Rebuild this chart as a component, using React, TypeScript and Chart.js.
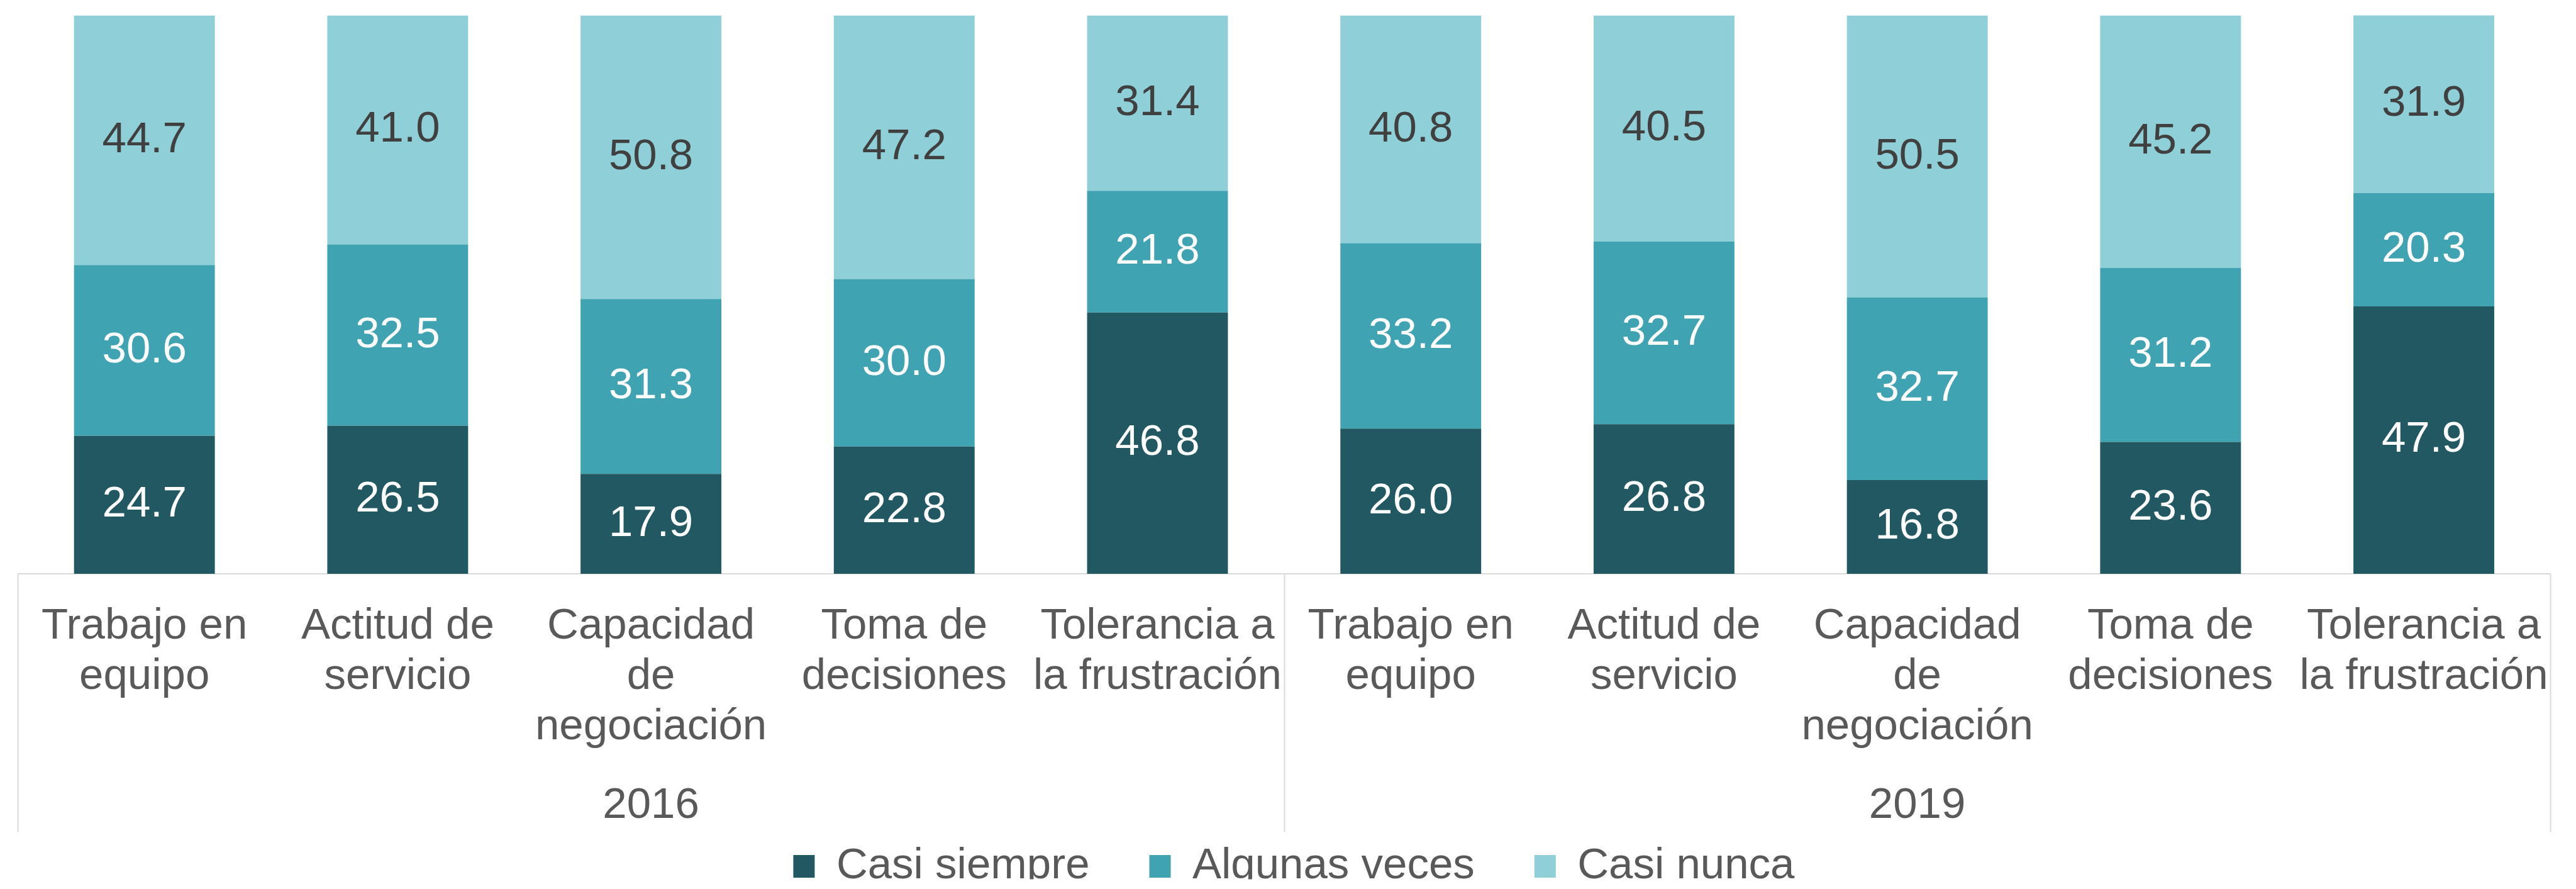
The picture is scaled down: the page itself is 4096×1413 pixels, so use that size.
import React, { useEffect, useRef } from "react";
import { Chart, registerables } from "chart.js";

Chart.register(...registerables);

const categories: string[][] = [
  ["Trabajo en", "equipo"],
  ["Actitud de", "servicio"],
  ["Capacidad", "de", "negociación"],
  ["Toma de", "decisiones"],
  ["Tolerancia a", "la frustración"],
  ["Trabajo en", "equipo"],
  ["Actitud de", "servicio"],
  ["Capacidad", "de", "negociación"],
  ["Toma de", "decisiones"],
  ["Tolerancia a", "la frustración"],
];
const years = ["2016", "2019"];
const casiSiempre = [24.7, 26.5, 17.9, 22.8, 46.8, 26.0, 26.8, 16.8, 23.6, 47.9];
const algunasVeces = [30.6, 32.5, 31.3, 30.0, 21.8, 33.2, 32.7, 32.7, 31.2, 20.3];
const casiNunca = [44.7, 41.0, 50.8, 47.2, 31.4, 40.8, 40.5, 50.5, 45.2, 31.9];
const seriesNames = ["Casi siempre", "Algunas veces", "Casi nunca"];

const COLORS = ["#215862", "#3FA3B2", "#8FCFD8"];
const LABEL_COLORS = ["#FFFFFF", "#FFFFFF", "#404040"];
const FONT = '"Liberation Sans", Arial, sans-serif';
const FS = 69;
const GRID = "#D9D9D9";

const W = 4096;
const H = 1413;

const decorPlugin = {
  id: "decor",
  beforeDatasetsDraw(chart: any) {
    const ctx = chart.ctx;
    const xs = chart.scales.x;
    ctx.save();
    ctx.strokeStyle = GRID;
    ctx.lineWidth = 2;
    ctx.beginPath();
    ctx.moveTo(xs.left, xs.top);
    ctx.lineTo(xs.right, xs.top);
    ctx.stroke();
    ctx.restore();
  },
  afterDraw(chart: any) {
    const ctx = chart.ctx;
    const xs = chart.scales.x;
    const half = (xs.getPixelForValue(1) - xs.getPixelForValue(0)) / 2;
    ctx.save();
    ctx.strokeStyle = GRID;
    ctx.lineWidth = 2;
    [0, 5, 10].forEach((i) => {
      const x = Math.round(xs.getPixelForValue(i) - half) + 0.5;
      ctx.beginPath();
      ctx.moveTo(x, xs.top);
      ctx.lineTo(x, xs.top + 410);
      ctx.stroke();
    });
    ctx.fillStyle = "#595959";
    ctx.font = `${FS}px ${FONT}`;
    ctx.textAlign = "center";
    ctx.textBaseline = "middle";
    years.forEach((y, k) => {
      const x = xs.getPixelForValue(k * 5 + 2);
      ctx.fillText(y, x, xs.top + 369);
    });
    // data labels
    ctx.font = `${FS}px ${FONT}`;
    chart.data.datasets.forEach((ds: any, di: number) => {
      const meta = chart.getDatasetMeta(di);
      ctx.fillStyle = LABEL_COLORS[di];
      meta.data.forEach((el: any, j: number) => {
        const v = ds.data[j];
        const cy = (el.y + el.base) / 2;
        ctx.fillText(v.toFixed(1), el.x, cy);
      });
    });
    ctx.restore();
  },
};

export default function App() {
  const ref = useRef<HTMLCanvasElement>(null);
  useEffect(() => {
    if (!ref.current) return;
    const chart = new Chart(ref.current, {
      type: "bar",
      data: {
        labels: categories as any,
        datasets: [casiSiempre, algunasVeces, casiNunca].map((d, i) => ({
          label: seriesNames[i],
          data: d,
          backgroundColor: COLORS[i],
          borderWidth: 0,
          categoryPercentage: 1,
          barPercentage: 0.556,
        })),
      },
      options: {
        responsive: false,
        devicePixelRatio: 1,
        animation: false,
        layout: { padding: { top: 24.5, left: 28.3, right: 9.4, bottom: 15.5 } },
        plugins: {
          tooltip: { enabled: false },
          legend: {
            position: "bottom",
            maxHeight: 150,
            labels: {
              boxWidth: 34,
              boxHeight: 36,
              padding: 95,
              color: "#595959",
              font: { size: FS, family: FONT },
            },
          },
        },
        scales: {
          x: {
            stacked: true,
            grid: { display: false, drawTicks: false },
            border: { display: false },
            ticks: {
              autoSkip: false,
              maxRotation: 0,
              minRotation: 0,
              padding: 44,
              color: "#595959",
              font: { size: FS, family: FONT, lineHeight: 80 / FS },
            },
            afterFit: (s: any) => {
              s.height = 335.5;
            },
          } as any,
          y: {
            stacked: true,
            display: false,
            min: 0,
            max: 100,
          },
        },
      },
      plugins: [decorPlugin],
    });
    return () => chart.destroy();
  }, []);
  return (
    <div style={{ position: "absolute", left: 0, top: 0, width: W, height: H, background: "#fff" }}>
      <canvas ref={ref} width={W} height={H} style={{ width: W, height: H, display: "block" }} />
    </div>
  );
}
